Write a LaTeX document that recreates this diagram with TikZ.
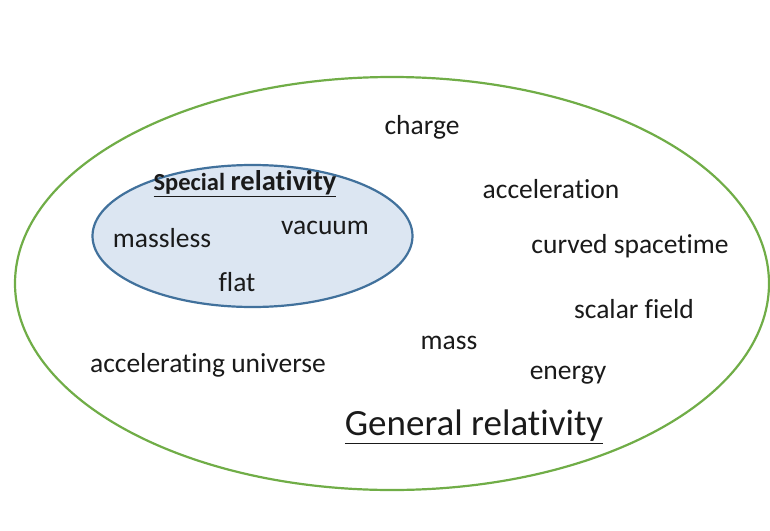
\documentclass[tikz,border=0pt]{standalone}
\usepackage{fontspec}
\setmainfont[Ligatures={NoCommon}]{Carlito}
\usetikzlibrary{shapes.geometric}
\definecolor{grline}{HTML}{70AD47}
\definecolor{srline}{HTML}{41719C}
\definecolor{srfill}{HTML}{DCE6F2}
\definecolor{txt}{HTML}{1A1A1A}
\tikzset{
  blob/.style={ellipse, inner sep=0pt, outer sep=0pt, line width=2.2pt},
  word/.style={text=txt, inner sep=0pt, font=\fontsize{27.5}{30}\selectfont, anchor=center},
  title/.style={text=txt, inner sep=0pt, anchor=center}
}
\begin{document}
\begin{tikzpicture}[x=1pt,y=-1pt]
\useasboundingbox (0,0) rectangle (770,530);
\node[blob, draw=grline, fill=white, minimum width=754pt, minimum height=413pt] (gr) at (392,283.5) {};
\node[blob, draw=srline, fill=srfill, minimum width=320pt, minimum height=142pt] (sr) at (252.5,236) {};
\node[title] (srt) at (245,184) {\underline{\bfseries\fontsize{24.5}{27}\selectfont Special \fontsize{28.5}{31}\selectfont relativity}};
\node[word] (massless) at (162,238) {massless};
\node[word] (vacuum) at (325,228) {vacuum};
\node[word] (flat) at (237,282) {flat};
\node[word] (charge) at (422,127) {charge};
\node[word] (accel) at (551,189) {acceleration};
\node[word] (curved) at (630,246) {curved spacetime};
\node[word] (scalar) at (634,309) {scalar field};
\node[word] (mass) at (449,343) {mass};
\node[word] (energy) at (568,375) {energy};
\node[word] (accuni) at (208,365) {accelerating universe};
\node[title] (grt) at (474,427) {\underline{\fontsize{37}{40}\selectfont General relativity}};
\end{tikzpicture}
\end{document}
